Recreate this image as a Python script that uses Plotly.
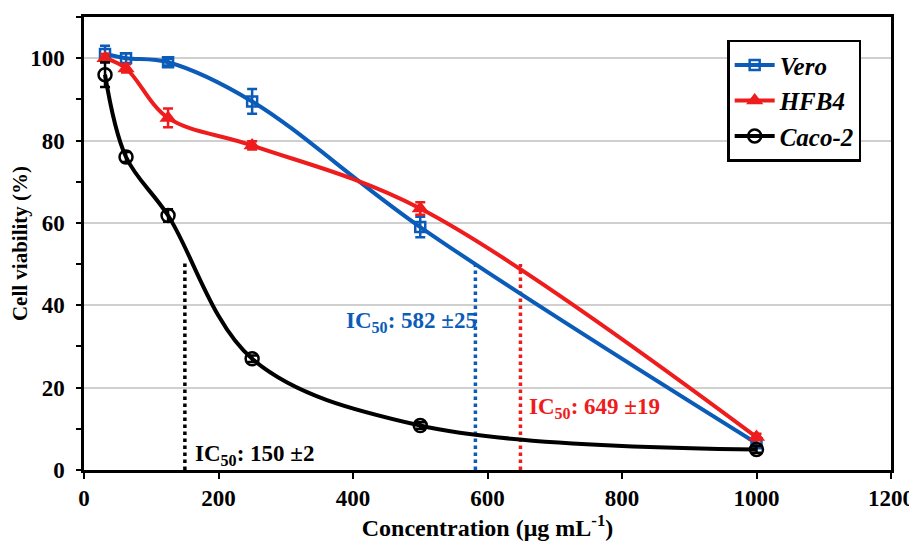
import plotly.graph_objects as go

conc = [31.25, 62.5, 125, 250, 500, 1000]
vero = [101, 100, 99, 89.5, 59, 6.5]
vero_err = [2, 1.2, 0.8, 3, 2.5, 0.8]
hfb4 = [100, 97.5, 85.5, 78.8, 63.5, 8]
hfb4_err = [1, 1, 2.3, 1, 1.5, 0.8]
caco2 = [96, 76, 61.8, 27, 10.8, 5]
caco2_err = [3, 1.2, 1.5, 0.8, 0.8, 0.8]

ic50_vals = [150, 582, 649]
ic50_tops = [51, 50, 50]
ic50_labels = ["IC<sub>50</sub>: 150 ±2", "IC<sub>50</sub>: 582 ±25", "IC<sub>50</sub>: 649 ±19"]
ic50_colors = ["#000000", "#0B5CB8", "#EE1C1C"]
label_x = [162, 588, 658]
label_y = [3.6, 36, 15]
label_anchor = ["left", "right", "left"]

FONT = "Liberation Serif"
fig = go.Figure()

for v, top, c in zip(ic50_vals, ic50_tops, ic50_colors):
    fig.add_trace(go.Scatter(x=[v, v], y=[0, top], mode="lines",
                             line=dict(color=c, width=3.5, dash="dot"),
                             showlegend=False, hoverinfo="skip"))

series = [
    ("Vero", vero, vero_err, "#0B5CB8", "square-open", 10, 2.5),
    ("HFB4", hfb4, hfb4_err, "#EE1C1C", "triangle-up", 15, 0),
    ("Caco-2", caco2, caco2_err, "#000000", "circle-open", 13, 2.5),
]
for name, ys, err, c, sym, sz, lw in series:
    fig.add_trace(go.Scatter(
        x=conc, y=ys, name=name, mode="lines+markers",
        line=dict(color=c, width=4, shape="spline", smoothing=1.0),
        marker=dict(symbol=sym, size=sz, color=c, line=dict(color=c, width=lw)),
        error_y=dict(type="data", array=err, color=c, thickness=2.5, width=5),
    ))

for t, x, y, c, a in zip(ic50_labels, label_x, label_y, ic50_colors, label_anchor):
    fig.add_annotation(x=x, y=y, text="<b>" + t + "</b>", showarrow=False,
                       xanchor=a, yanchor="middle",
                       font=dict(family=FONT, size=23, color=c))

fig.update_layout(
    width=917, height=543,
    margin=dict(l=76, r=34, t=6, b=81),
    plot_bgcolor="white", paper_bgcolor="white",
    font=dict(family=FONT, size=22, color="black"),
    legend=dict(x=0.797, y=0.95, xanchor="left", yanchor="top",
                bordercolor="black", borderwidth=2.5, bgcolor="white",
                font=dict(family=FONT, size=25, color="black", weight="bold", style="italic"),
                itemwidth=40, tracegroupgap=5),
    xaxis=dict(range=[0, 1200], dtick=200, showgrid=False, zeroline=False,
               showline=True, linecolor="black", linewidth=2.5, mirror=True,
               ticks="outside", ticklen=6, tickwidth=2, tickcolor="black",
               automargin=True,
               tickfont=dict(family=FONT, size=23, weight="bold"),
               title=dict(text="<b>Concentration (μg mL<sup>-1</sup>)</b>",
                          font=dict(family=FONT, size=24), standoff=4)),
    yaxis=dict(range=[0, 110], tickvals=[0, 20, 40, 60, 80, 100], showgrid=True,
               gridcolor="#D0D0D0", gridwidth=1.5, zeroline=False,
               showline=True, linecolor="black", linewidth=2.5, mirror=True,
               ticks="outside", ticklen=5, tickwidth=2, tickcolor="black",
               automargin=True, ticklabelstandoff=7,
               minor=dict(dtick=10, ticks="outside", ticklen=5, tickwidth=2, tickcolor="black", showgrid=False),
               tickfont=dict(family=FONT, size=23, weight="bold"),
               title=dict(text="<b>Cell viability (%)</b>",
                          font=dict(family=FONT, size=21), standoff=0)),
)

fig.write_html("out.html")
